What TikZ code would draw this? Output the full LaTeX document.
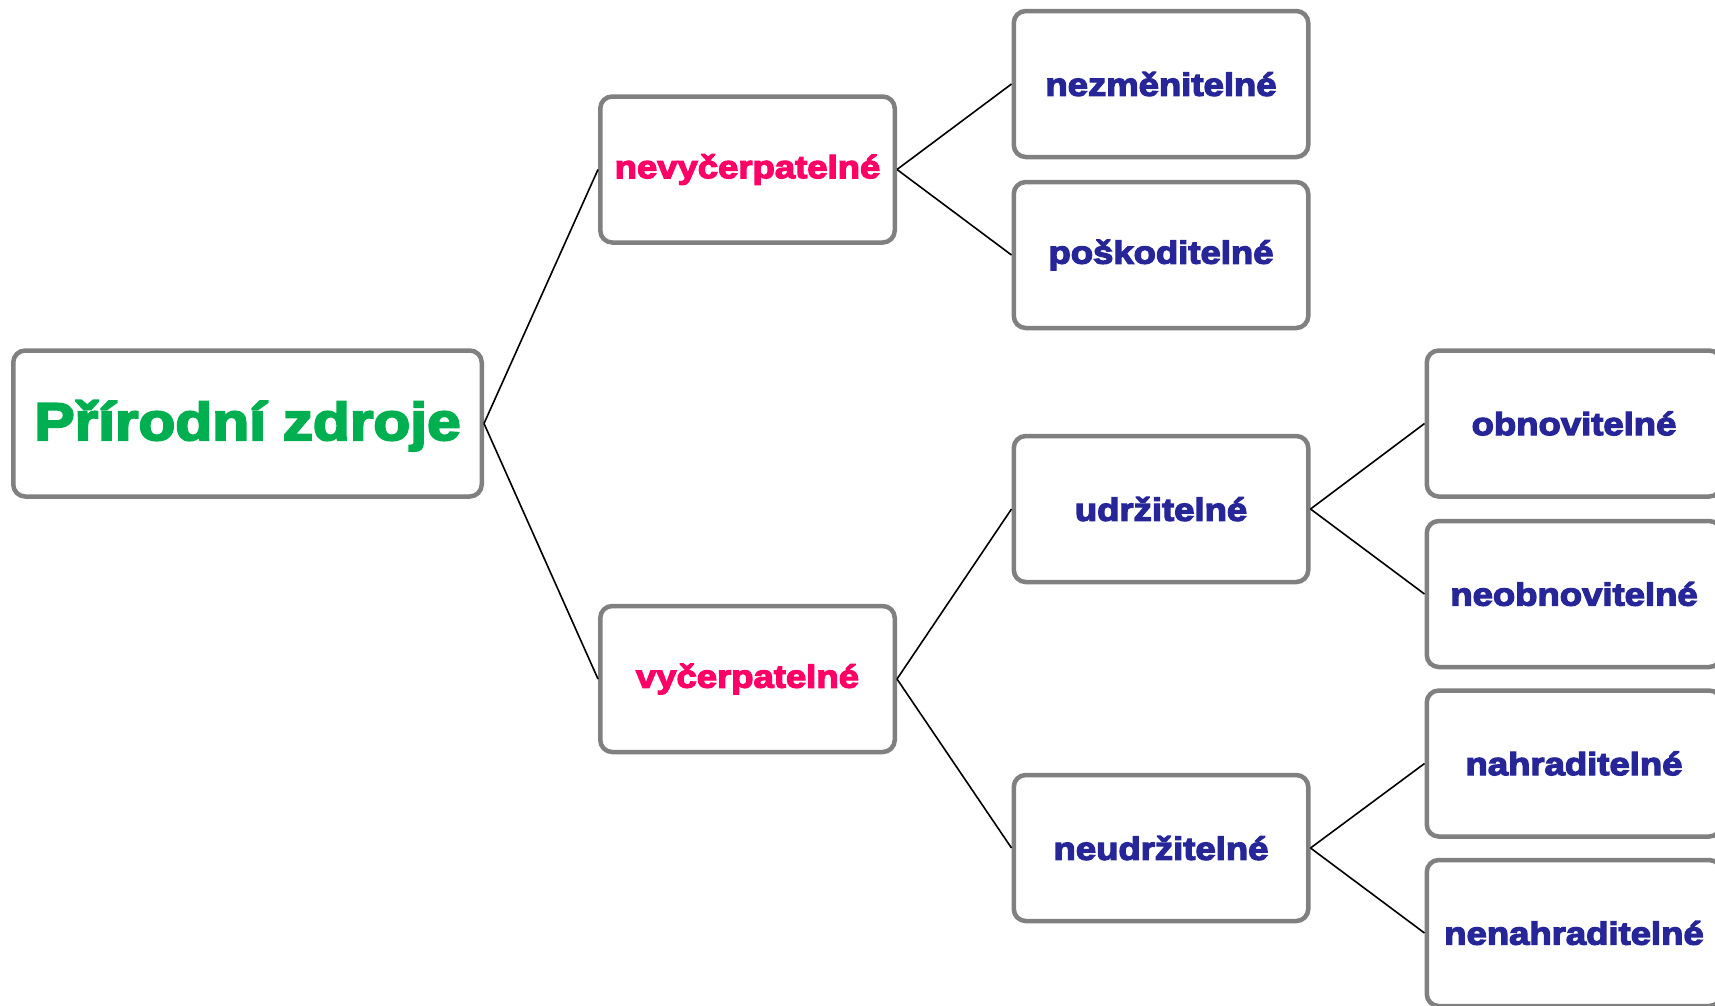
\documentclass[tikz,border=0pt]{standalone}
\usepackage{fontspec}
\setmainfont{Liberation Sans}
\newfontfamily\blk[FakeBold=4,FakeStretch=1.14]{Liberation Sans Bold}
\definecolor{rootgreen}{HTML}{00B050}
\definecolor{pinkred}{HTML}{FF0066}
\definecolor{navyblue}{HTML}{262699}
\definecolor{boxgray}{HTML}{808080}
\begin{document}
\begin{tikzpicture}[x=1pt,y=-1pt,
  box/.style={draw=boxgray,line width=4.5pt,rounded corners=12pt,fill=white,
    minimum width=294.5pt,minimum height=146pt,inner sep=0pt,
    font=\blk\fontsize{32}{38}\selectfont},
  rootbox/.style={box,minimum width=468.5pt,text=rootgreen,
    text height=40pt,text depth=7pt,
    font=\blk\fontsize{53}{60}\selectfont},
  lvlone/.style={box,text=pinkred},
  lvltwo/.style={box,text=navyblue},
  link/.style={draw=black,line width=1.6pt}]
\useasboundingbox (0,0) rectangle (1715,1005);
\clip (0,0) rectangle (1715,1005);
\node[rootbox] (root) at (247.5,423.5) {Přírodní zdroje};
\node[lvlone] (nevy) at (747.5,169.5) {nevyčerpatelné};
\node[lvlone] (vy) at (747.5,679) {vyčerpatelné};
\node[lvltwo] (nezm) at (1161,84) {nezměnitelné};
\node[lvltwo] (posk) at (1161,255) {poškoditelné};
\node[lvltwo] (udrz) at (1161,509) {udržitelné};
\node[lvltwo] (neudrz) at (1161,848) {neudržitelné};
\node[lvltwo] (obnov) at (1574,423.5) {obnovitelné};
\node[lvltwo] (neobnov) at (1574,594) {neobnovitelné};
\node[lvltwo] (nahr) at (1574,763.5) {nahraditelné};
\node[lvltwo] (nenahr) at (1574,933) {nenahraditelné};
\draw[link] (root.east) -- (nevy.west);
\draw[link] (root.east) -- (vy.west);
\draw[link] (nevy.east) -- (nezm.west);
\draw[link] (nevy.east) -- (posk.west);
\draw[link] (vy.east) -- (udrz.west);
\draw[link] (vy.east) -- (neudrz.west);
\draw[link] (udrz.east) -- (obnov.west);
\draw[link] (udrz.east) -- (neobnov.west);
\draw[link] (neudrz.east) -- (nahr.west);
\draw[link] (neudrz.east) -- (nenahr.west);
\end{tikzpicture}
\end{document}
